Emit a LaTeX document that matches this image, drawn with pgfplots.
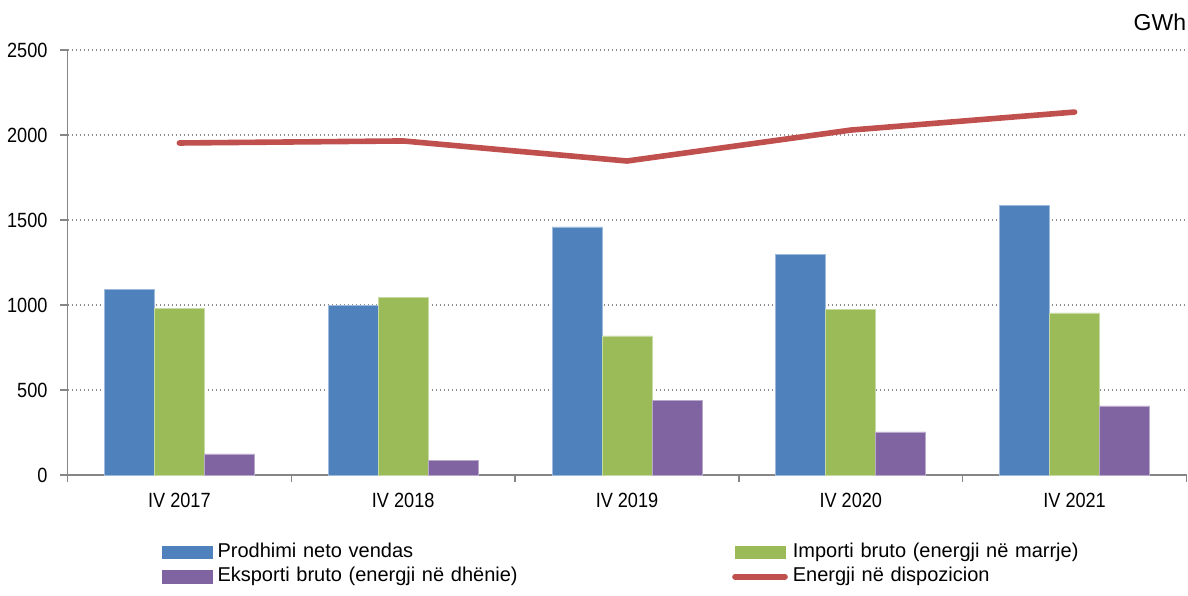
\documentclass[border=0pt]{standalone}
\usepackage{fontspec}
\setmainfont{Liberation Sans}
\newfontfamily\narrowfont{Liberation Sans}[FakeStretch=0.88]
\usepackage{pgfplots}
\pgfplotsset{compat=1.18}
\definecolor{cBlue}{HTML}{4F81BD}
\definecolor{cGreen}{HTML}{9BBB59}
\definecolor{cPurple}{HTML}{8064A2}
\definecolor{cRed}{HTML}{C0504D}
\definecolor{axisgray}{HTML}{868686}
\definecolor{gridgray}{HTML}{8C8C8C}
\begin{document}
\begin{tikzpicture}[font=\fontsize{10}{12}\selectfont]
\useasboundingbox (0,0) rectangle (594pt,297.5pt);
\begin{axis}[
  scale only axis, width=559.5pt, height=212.5pt,
  at={(33.75pt,60pt)}, anchor=south west,
  xmin=-0.5, xmax=4.5, ymin=0, ymax=2500,
  axis x line*=bottom, axis y line*=left,
  axis line style={draw=axisgray, line width=0.75pt, -},
  xtick={-0.5,0.5,...,4.5}, x tick label as interval,
  xticklabels={IV 2017, IV 2018, IV 2019, IV 2020, IV 2021},
  ytick={0,500,...,2500},
  tick align=outside, major tick length=3.5pt,
  tick style={draw=axisgray, line width=0.75pt},
  ymajorgrids, major grid style={draw=gridgray, line width=0.65pt, dash pattern=on 0.65pt off 1.35pt},
  /pgf/number format/assume math mode=true,
  /pgf/number format/1000 sep={},
  tick label style={font=\narrowfont\fontsize{10.3}{12}\selectfont},
  yticklabel style={xshift=-3pt},
  xticklabel style={yshift=-2pt},
  clip=false,
  legend columns=2,
  legend cell align=left,
  legend style={at={(axis description cs:0.0842,-0.16)}, anchor=north west,
    draw=none, fill=none, inner sep=0pt, outer sep=0pt, row sep=2.6pt,
    font=\fontsize{10}{12}\selectfont,
    nodes={inner sep=0pt, text height=7.3pt, text depth=2.2pt, text width=200pt, align=left},
    /tikz/every odd column/.append style={column sep=2.5pt},
    /tikz/every even column/.append style={column sep=57.35pt}},
]
\addplot[ybar, bar width=25pt, bar shift=-25pt, fill=cBlue, draw=cBlue!55!white, line width=0.4pt,
  legend image code/.code={\fill[cBlue] (0pt,-3.15pt) rectangle (25pt,3.15pt);}]
  coordinates {(0,1094) (1,1000) (2,1459) (3,1300) (4,1588)};
\addplot[ybar, bar width=25pt, bar shift=0pt, fill=cGreen, draw=cGreen!55!white, line width=0.4pt,
  legend image code/.code={\fill[cGreen] (0pt,-3.15pt) rectangle (25pt,3.15pt);}]
  coordinates {(0,982) (1,1047) (2,818) (3,976) (4,953)};
\addplot[ybar, bar width=25pt, bar shift=25pt, fill=cPurple, draw=cPurple!55!white, line width=0.4pt,
  legend image code/.code={\fill[cPurple] (0pt,-3.15pt) rectangle (25pt,3.15pt);}]
  coordinates {(0,124) (1,88) (2,441) (3,253) (4,406)};
\addplot[sharp plot, color=cRed, line width=2.8pt, line cap=round, line join=round,
  legend image code/.code={\draw[cRed, line width=2.8pt, line cap=round] (0pt,0pt) -- (25pt,0pt);}]
  coordinates {(0,1953) (1,1965) (2,1847) (3,2029) (4,2135)};
\legend{Prodhimi neto vendas, Importi bruto (energji në marrje), Eksporti bruto (energji në dhënie), Energji në dispozicion}
\node[anchor=base east, font=\fontsize{11.5}{13}\selectfont, inner sep=0pt] at (rel axis cs:1,1) [yshift=10pt] {GWh};
\end{axis}
\end{tikzpicture}
\end{document}
